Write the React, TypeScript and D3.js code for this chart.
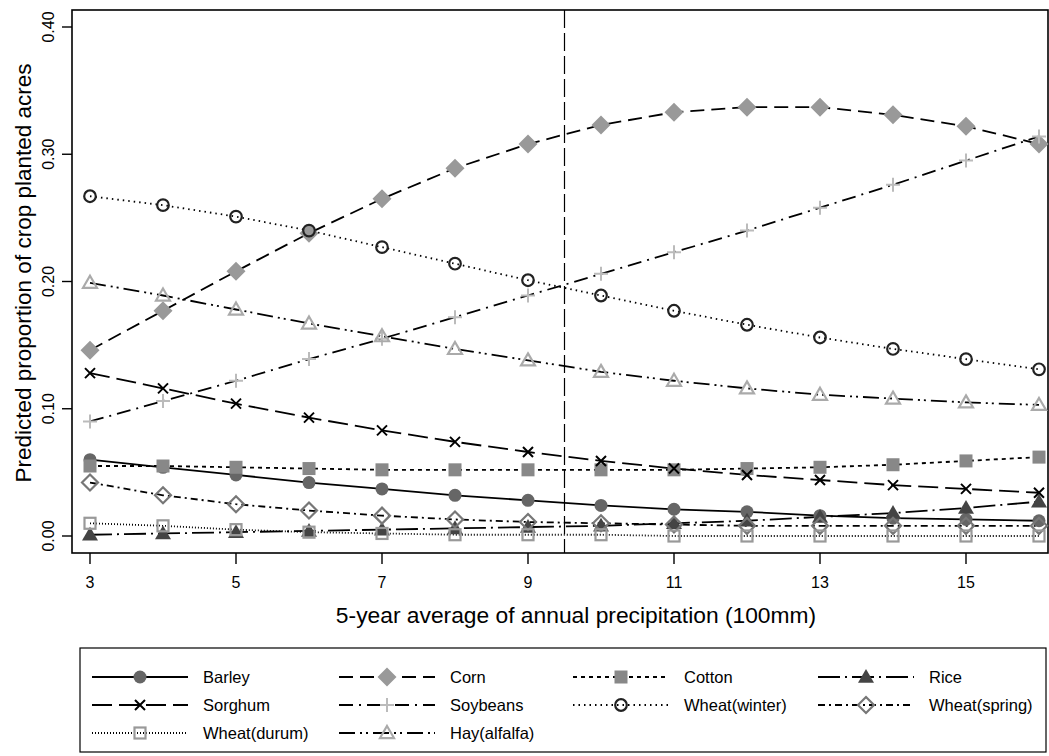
import * as d3 from "d3";

const xs = [3, 4, 5, 6, 7, 8, 9, 10, 11, 12, 13, 14, 15, 16];
const xTicks = [3, 5, 7, 9, 11, 13, 15];
const yTicks = [0, 0.1, 0.2, 0.3, 0.4];

const barley = [0.060, 0.054, 0.048, 0.042, 0.037, 0.032, 0.028, 0.024, 0.021, 0.019, 0.016, 0.014, 0.013, 0.012];
const corn = [0.146, 0.177, 0.208, 0.238, 0.265, 0.289, 0.308, 0.323, 0.333, 0.337, 0.337, 0.331, 0.322, 0.308];
const cotton = [0.055, 0.055, 0.054, 0.053, 0.052, 0.052, 0.052, 0.052, 0.052, 0.053, 0.054, 0.056, 0.059, 0.062];
const rice = [0.001, 0.002, 0.003, 0.004, 0.005, 0.006, 0.007, 0.008, 0.010, 0.012, 0.015, 0.018, 0.022, 0.027];
const sorghum = [0.128, 0.116, 0.104, 0.093, 0.083, 0.074, 0.066, 0.059, 0.053, 0.048, 0.044, 0.040, 0.037, 0.034];
const soybeans = [0.090, 0.106, 0.122, 0.139, 0.155, 0.172, 0.189, 0.206, 0.223, 0.240, 0.258, 0.276, 0.295, 0.314];
const wheatWinter = [0.267, 0.260, 0.251, 0.240, 0.227, 0.214, 0.201, 0.189, 0.177, 0.166, 0.156, 0.147, 0.139, 0.131];
const wheatSpring = [0.042, 0.032, 0.025, 0.020, 0.016, 0.013, 0.011, 0.010, 0.009, 0.008, 0.008, 0.008, 0.008, 0.008];
const wheatDurum = [0.010, 0.008, 0.005, 0.003, 0.002, 0.001, 0.001, 0.001, 0.000, 0.000, 0.000, 0.000, 0.000, 0.000];
const hay = [0.199, 0.189, 0.178, 0.167, 0.157, 0.147, 0.138, 0.129, 0.122, 0.116, 0.111, 0.108, 0.105, 0.103];

type Marker = "circle" | "diamond" | "square" | "triangle" | "x" | "plus";

const series: { name: string; values: number[]; dash: string; marker: Marker; color: string; filled: boolean }[] = [
  { name: "Barley", values: barley, dash: "none", marker: "circle", color: "#666", filled: true },
  { name: "Corn", values: corn, dash: "14,7", marker: "diamond", color: "#999", filled: true },
  { name: "Cotton", values: cotton, dash: "4,4", marker: "square", color: "#888", filled: true },
  { name: "Rice", values: rice, dash: "22,5,2,5", marker: "triangle", color: "#444", filled: true },
  { name: "Sorghum", values: sorghum, dash: "20,7", marker: "x", color: "#000", filled: false },
  { name: "Soybeans", values: soybeans, dash: "14,6,2,6", marker: "plus", color: "#bbb", filled: false },
  { name: "Wheat(winter)", values: wheatWinter, dash: "1.5,4", marker: "circle", color: "#222", filled: false },
  { name: "Wheat(spring)", values: wheatSpring, dash: "7,4,2,4", marker: "diamond", color: "#777", filled: false },
  { name: "Wheat(durum)", values: wheatDurum, dash: "1,2", marker: "square", color: "#999", filled: false },
  { name: "Hay(alfalfa)", values: hay, dash: "16,5,2,4,2,5", marker: "triangle", color: "#aaa", filled: false },
];

const FONT = "'Liberation Sans', Arial, sans-serif";

function MarkerShape({ type, x, y, color, filled }: { type: Marker; x: number; y: number; color: string; filled: boolean }) {
  const sw = filled ? 0 : 2.2;
  if (type === "circle") {
    const r = filled ? 6.5 : 5.8;
    return <circle cx={x} cy={y} r={r} fill={filled ? color : "none"} stroke={color} strokeWidth={sw} />;
  }
  if (type === "diamond") {
    const s = filled ? 9.5 : 8;
    return <path d={`M${x},${y - s}L${x + s},${y}L${x},${y + s}L${x - s},${y}Z`} fill={filled ? color : "none"} stroke={color} strokeWidth={sw} />;
  }
  if (type === "square") {
    const s = filled ? 6.5 : 5.5;
    return <rect x={x - s} y={y - s} width={2 * s} height={2 * s} fill={filled ? color : "none"} stroke={color} strokeWidth={sw} />;
  }
  if (type === "triangle") {
    const s = filled ? 8 : 7;
    return <path d={`M${x},${y - s}L${x + s},${y + s * 0.72}L${x - s},${y + s * 0.72}Z`} fill={filled ? color : "none"} stroke={color} strokeWidth={sw} />;
  }
  if (type === "x") {
    const s = 5;
    return <path d={`M${x - s},${y - s}L${x + s},${y + s}M${x - s},${y + s}L${x + s},${y - s}`} stroke={color} strokeWidth={2} />;
  }
  const s = 7;
  return <path d={`M${x - s},${y}L${x + s},${y}M${x},${y - s}L${x},${y + s}`} stroke={color} strokeWidth={2} />;
}

export default function App() {
  const W = 1049;
  const H = 756;
  const frame = { left: 72, right: 1048, top: 10, bottom: 553 };
  const x = d3.scaleLinear().domain([3, 16]).range([90, 1039]);
  const y = d3.scaleLinear().domain([0, 0.4]).range([536, 27]);
  const line = d3
    .line<number>()
    .x((_, i) => x(xs[i]))
    .y((d) => y(d));

  const legendCols = [92, 339, 573, 818];
  const legendRows = [677, 705, 733];

  return (
    <svg width={W} height={H} style={{ position: "absolute", left: 0, top: 0, background: "white" }} fontFamily={FONT}>
      <rect width={W} height={H} fill="white" />
      {/* frame */}
      <rect
        x={frame.left}
        y={frame.top}
        width={frame.right - frame.left}
        height={frame.bottom - frame.top}
        fill="none"
        stroke="#000"
        strokeWidth={1.6}
      />
      {/* y axis */}
      {yTicks.map((t) => (
        <g key={t}>
          <line x1={frame.left - 10} x2={frame.left} y1={y(t)} y2={y(t)} stroke="#000" strokeWidth={1.4} />
          <text
            transform={`translate(54,${y(t)}) rotate(-90)`}
            textAnchor="middle"
            fontSize={16}
            fill="#000"
          >
            {t.toFixed(2)}
          </text>
        </g>
      ))}
      <text transform={`translate(31,273) rotate(-90)`} textAnchor="middle" fontSize={22.5}>
        Predicted proportion of crop planted acres
      </text>
      {/* x axis */}
      {xTicks.map((t) => (
        <g key={t}>
          <line x1={x(t)} x2={x(t)} y1={frame.bottom} y2={frame.bottom + 11} stroke="#000" strokeWidth={1.4} />
          <text x={x(t)} y={588} textAnchor="middle" fontSize={16}>
            {t}
          </text>
        </g>
      ))}
      <text x={576} y={623} textAnchor="middle" fontSize={22.8}>
        5-year average of annual precipitation (100mm)
      </text>
      {/* reference line */}
      <line x1={x(9.5)} x2={x(9.5)} y1={frame.top} y2={frame.bottom} stroke="#000" strokeWidth={1.2} strokeDasharray="18,5" />
      {/* series lines */}
      {series.map((s) => (
        <path key={s.name} d={line(s.values) || ""} fill="none" stroke="#000" strokeWidth={1.8} strokeDasharray={s.dash} />
      ))}
      {/* markers */}
      {series.map((s) => (
        <g key={s.name + "-m"}>
          {s.values.map((v, i) => (
            <MarkerShape key={i} type={s.marker} x={x(xs[i])} y={y(v)} color={s.color} filled={s.filled} />
          ))}
        </g>
      ))}
      {/* legend */}
      <rect x={80} y={648} width={966} height={104} fill="white" stroke="#000" strokeWidth={1.2} />
      {series.map((s, i) => {
        const cx = legendCols[i % 4];
        const cy = legendRows[Math.floor(i / 4)];
        return (
          <g key={s.name + "-l"}>
            <line x1={cx} x2={cx + 96} y1={cy} y2={cy} stroke="#000" strokeWidth={1.8} strokeDasharray={s.dash} />
            <MarkerShape type={s.marker} x={cx + 48} y={cy} color={s.color} filled={s.filled} />
            <text x={cx + 111} y={cy + 6} fontSize={16.5}>
              {s.name}
            </text>
          </g>
        );
      })}
    </svg>
  );
}
